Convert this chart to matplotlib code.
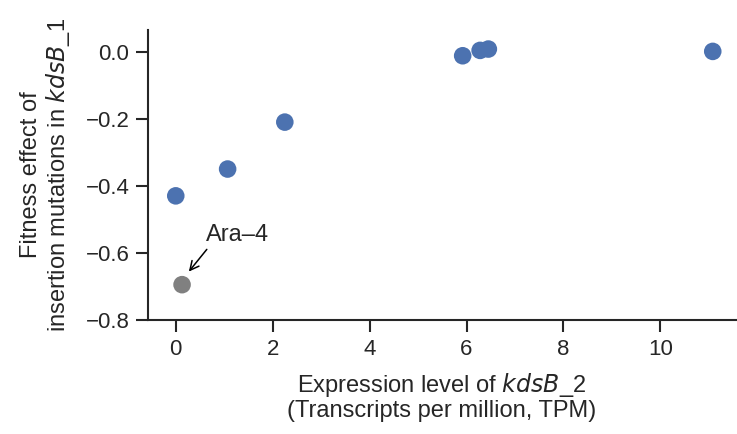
import matplotlib
matplotlib.use("Agg")
import matplotlib.pyplot as plt
import seaborn as sns

sns.set_style("ticks")
plt.rcParams['font.family'] = ['Liberation Sans', 'DejaVu Sans']

# expression (TPM) vs fitness effect
tpm = [0.0, 1.07, 2.25, 5.92, 6.28, 6.45, 11.08]
fitness = [-0.43, -0.35, -0.21, -0.012, 0.004, 0.008, 0.001]
ara4_tpm = [0.13]
ara4_fit = [-0.695]

fig = plt.figure(figsize=(7.37, 4.34), dpi=100)
ax = fig.add_axes([0.201, 0.263, 0.797, 0.668])

ax.scatter(tpm, fitness, s=160, color="#4c72b0", edgecolor="none", zorder=3)
ax.scatter(ara4_tpm, ara4_fit, s=160, color="#808080", edgecolor="none", zorder=3)

ax.annotate("Ara\u20134", xy=(0.27, -0.656), xytext=(0.62, -0.565),
            fontsize=17, color="#262626",
            arrowprops=dict(arrowstyle="->", color="black", lw=1.1,
                            shrinkA=0, shrinkB=0, relpos=(0.1, 0.15),
                            mutation_scale=16))

ax.set_xlim(-0.57, 11.55)
ax.set_ylim(-0.8, 0.065)
ax.set_xticks([0, 2, 4, 6, 8, 10])
ax.set_yticks([-0.8, -0.6, -0.4, -0.2, 0.0])
ax.set_yticklabels(["\u22120.8", "\u22120.6", "\u22120.4", "\u22120.2", "0.0"])
ax.tick_params(labelsize=16, length=8.5, width=1.5, colors="#262626", pad=5)
for s in ["left", "bottom"]:
    ax.spines[s].set_linewidth(1.5)
    ax.spines[s].set_color("#262626")
sns.despine(ax=ax)

ax.set_xlabel("Expression level of $\\it{kdsB}$_2\n(Transcripts per million, TPM)",
              fontsize=17, color="#262626", labelpad=8, linespacing=1.1)
ax.set_ylabel("Fitness effect of\ninsertion mutations in $\\it{kdsB}$_1",
              fontsize=17, color="#262626", labelpad=10, linespacing=1.1)

fig.savefig("out.png", dpi=100)
